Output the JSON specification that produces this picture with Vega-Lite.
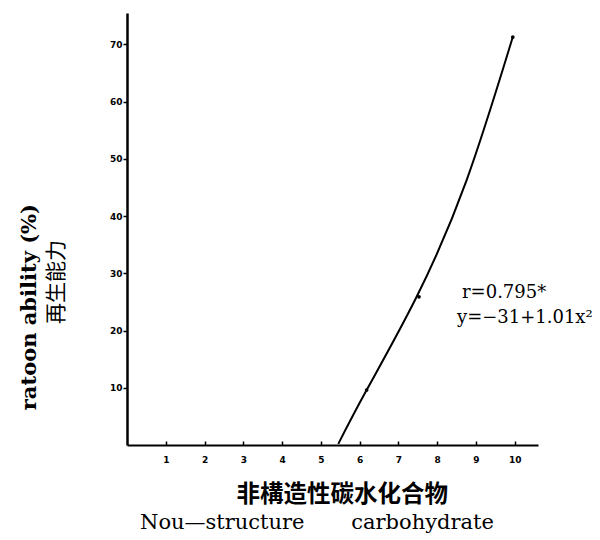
{
  "$schema": "https://vega.github.io/schema/vega-lite/v6.json",
  "autosize": "none",
  "width": 411,
  "height": 432,
  "padding": {"left": 127, "top": 13, "right": 62, "bottom": 95},
  "background": "white",
  "config": {"view": {"stroke": null}},
  "datasets": {
    "curve": [
      {"x": 5.45, "y": 0.2},
      {"x": 6.18, "y": 9.6},
      {"x": 7.47, "y": 25.9},
      {"x": 8.76, "y": 46.3},
      {"x": 9.95, "y": 71.3}
    ],
    "points": [
      {"x": 6.18, "y": 9.6},
      {"x": 7.53, "y": 25.9},
      {"x": 9.95, "y": 71.3}
    ],
    "labels": [
      {"x": 8.64, "y": 26.6, "t": "r=0.795*"},
      {"x": 8.51, "y": 22.2, "t": "y=−31+1.01x²"}
    ]
  },
  "layer": [
    {
      "data": {"name": "curve"},
      "mark": {"type": "line", "color": "black", "strokeWidth": 2, "interpolate": "natural"},
      "encoding": {
        "x": {"field": "x", "type": "quantitative", "scale": {"domain": [0, 10.6], "nice": false, "zero": false},
          "axis": {"values": [1,2,3,4,5,6,7,8,9,10], "title": null, "grid": false, "domainColor": "black", "domainWidth": 2, "tickColor": "black", "tickWidth": 1.5, "tickSize": -4, "labelPadding": 14, "labelFont": "DejaVu Sans", "labelFontWeight": "bold", "labelFontSize": 9, "labelColor": "black"}},
        "y": {"field": "y", "type": "quantitative", "scale": {"domain": [0, 75.5], "nice": false, "zero": false},
          "axis": {"values": [10,20,30,40,50,60,70], "title": null, "grid": false, "domainColor": "black", "domainWidth": 2.5, "tickColor": "black", "tickWidth": 1.5, "tickSize": 4, "labelPadding": 1, "labelFont": "DejaVu Sans", "labelFontWeight": "bold", "labelFontSize": 9, "labelColor": "black"}}
      }
    },
    {
      "data": {"name": "points"},
      "mark": {"type": "point", "filled": true, "color": "black", "size": 14, "opacity": 1},
      "encoding": {
        "x": {"field": "x", "type": "quantitative"},
        "y": {"field": "y", "type": "quantitative"}
      }
    },
    {
      "data": {"name": "labels"},
      "mark": {"type": "text", "align": "left", "baseline": "middle", "font": "DejaVu Serif", "fontSize": 18, "color": "black"},
      "encoding": {
        "x": {"field": "x", "type": "quantitative"},
        "y": {"field": "y", "type": "quantitative"},
        "text": {"field": "t"}
      }
    },
    {
      "data": {"values": [{"x": 5.55, "y": -8.7, "t": "非構造性碳水化合物"}]},
      "mark": {"type": "text", "align": "center", "baseline": "middle", "font": "Noto Sans CJK SC", "fontWeight": "bold", "fontSize": 23.5, "color": "black"},
      "encoding": {
        "x": {"field": "x", "type": "quantitative"},
        "y": {"field": "y", "type": "quantitative"},
        "text": {"field": "t"}
      }
    },
    {
      "data": {"values": [{"x": 4.9, "y": -13.6, "t": "Nou—structure\u00a0\u00a0\u00a0\u00a0\u00a0\u00a0\u00a0carbohydrate"}]},
      "mark": {"type": "text", "align": "center", "baseline": "middle", "font": "DejaVu Serif", "fontSize": 21, "color": "black"},
      "encoding": {
        "x": {"field": "x", "type": "quantitative"},
        "y": {"field": "y", "type": "quantitative"},
        "text": {"field": "t"}
      }
    },
    {
      "data": {"values": [{"x": -2.5, "y": 24.1, "t": "ratoon ability (%)"}]},
      "mark": {"type": "text", "align": "center", "baseline": "middle", "angle": 270, "font": "DejaVu Serif", "fontWeight": "bold", "fontSize": 21, "color": "black"},
      "encoding": {
        "x": {"field": "x", "type": "quantitative"},
        "y": {"field": "y", "type": "quantitative"},
        "text": {"field": "t"}
      }
    },
    {
      "data": {"values": [{"x": -1.8, "y": 28.5, "t": "再生能力"}]},
      "mark": {"type": "text", "align": "center", "baseline": "middle", "angle": 270, "font": "Noto Sans CJK SC", "fontSize": 21, "color": "black"},
      "encoding": {
        "x": {"field": "x", "type": "quantitative"},
        "y": {"field": "y", "type": "quantitative"},
        "text": {"field": "t"}
      }
    }
  ]
}
